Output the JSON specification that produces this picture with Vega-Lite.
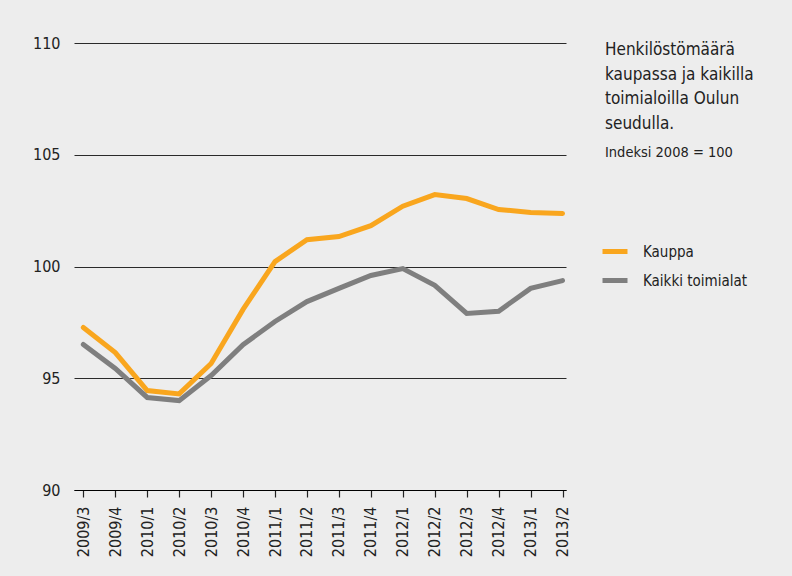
{
  "$schema": "https://vega.github.io/schema/vega-lite/v6.json",
  "autosize": {"type": "none"},
  "padding": {"left": 74, "top": 43, "right": 226, "bottom": 86},
  "width": 492,
  "height": 447,
  "background": "#ededed",
  "config": {
    "view": {"stroke": null},
    "font": "Liberation Sans Narrow, DejaVu Sans Condensed, sans-serif"
  },
  "title": {
    "text": ["Henkilöstömäärä", "kaupassa ja kaikilla", "toimialoilla Oulun", "seudulla."],
    "subtitle": "Indeksi 2008 = 100",
    "orient": "top",
    "anchor": "end",
    "frame": "group",
    "align": "left",
    "baseline": "top",
    "dx": 39,
    "dy": 129,
    "fontSize": 17,
    "fontWeight": "normal",
    "lineHeight": 24.5,
    "color": "#222222",
    "subtitleFontSize": 14.5,
    "subtitleColor": "#222222",
    "subtitlePadding": 13
  },
  "data": {
    "values": [
      {"period": "2009/3", "series": "Kauppa", "value": 97.27},
      {"period": "2009/4", "series": "Kauppa", "value": 96.15},
      {"period": "2010/1", "series": "Kauppa", "value": 94.45},
      {"period": "2010/2", "series": "Kauppa", "value": 94.3},
      {"period": "2010/3", "series": "Kauppa", "value": 95.66},
      {"period": "2010/4", "series": "Kauppa", "value": 98.08},
      {"period": "2011/1", "series": "Kauppa", "value": 100.22},
      {"period": "2011/2", "series": "Kauppa", "value": 101.2},
      {"period": "2011/3", "series": "Kauppa", "value": 101.34},
      {"period": "2011/4", "series": "Kauppa", "value": 101.83},
      {"period": "2012/1", "series": "Kauppa", "value": 102.7},
      {"period": "2012/2", "series": "Kauppa", "value": 103.22},
      {"period": "2012/3", "series": "Kauppa", "value": 103.04},
      {"period": "2012/4", "series": "Kauppa", "value": 102.55},
      {"period": "2013/1", "series": "Kauppa", "value": 102.42},
      {"period": "2013/2", "series": "Kauppa", "value": 102.37},
      {"period": "2009/3", "series": "Kaikki toimialat", "value": 96.51},
      {"period": "2009/4", "series": "Kaikki toimialat", "value": 95.44},
      {"period": "2010/1", "series": "Kaikki toimialat", "value": 94.14},
      {"period": "2010/2", "series": "Kaikki toimialat", "value": 94.0},
      {"period": "2010/3", "series": "Kaikki toimialat", "value": 95.12},
      {"period": "2010/4", "series": "Kaikki toimialat", "value": 96.5},
      {"period": "2011/1", "series": "Kaikki toimialat", "value": 97.54},
      {"period": "2011/2", "series": "Kaikki toimialat", "value": 98.43},
      {"period": "2011/3", "series": "Kaikki toimialat", "value": 99.02},
      {"period": "2011/4", "series": "Kaikki toimialat", "value": 99.6},
      {"period": "2012/1", "series": "Kaikki toimialat", "value": 99.91},
      {"period": "2012/2", "series": "Kaikki toimialat", "value": 99.16},
      {"period": "2012/3", "series": "Kaikki toimialat", "value": 97.9},
      {"period": "2012/4", "series": "Kaikki toimialat", "value": 98.0},
      {"period": "2013/1", "series": "Kaikki toimialat", "value": 99.02},
      {"period": "2013/2", "series": "Kaikki toimialat", "value": 99.37}
    ]
  },
  "mark": {"type": "line", "strokeWidth": 5, "strokeCap": "round", "strokeJoin": "miter"},
  "encoding": {
    "x": {
      "field": "period",
      "type": "ordinal",
      "scale": {"type": "point", "padding": 0.2, "align": 0.73},
      "axis": {
        "title": null,
        "grid": false,
        "domainColor": "#000000",
        "domainWidth": 1.2,
        "tickColor": "#222222",
        "tickSize": 7,
        "tickWidth": 1.2,
        "labelAngle": -90,
        "labelPadding": 9,
        "labelFontSize": 16,
        "labelColor": "#222222"
      }
    },
    "y": {
      "field": "value",
      "type": "quantitative",
      "scale": {"domain": [90, 110], "nice": false, "zero": false},
      "axis": {
        "title": null,
        "values": [90, 95, 100, 105, 110],
        "domain": false,
        "grid": true,
        "gridColor": "#2a2a2a",
        "gridWidth": 1,
        "ticks": false,
        "labelPadding": 14,
        "labelFontSize": 16,
        "labelColor": "#222222"
      }
    },
    "color": {
      "field": "series",
      "type": "nominal",
      "scale": {"domain": ["Kauppa", "Kaikki toimialat"], "range": ["#f9a61e", "#7f7f7f"]},
      "legend": {
        "orient": "none",
        "legendX": 526,
        "legendY": 193.5,
        "title": null,
        "symbolType": "stroke",
        "symbolSize": 625,
        "symbolStrokeWidth": 5,
        "labelFontSize": 15,
        "labelColor": "#222222",
        "labelOffset": 13,
        "rowPadding": 4,
        "labelLimit": 300
      }
    }
  }
}
